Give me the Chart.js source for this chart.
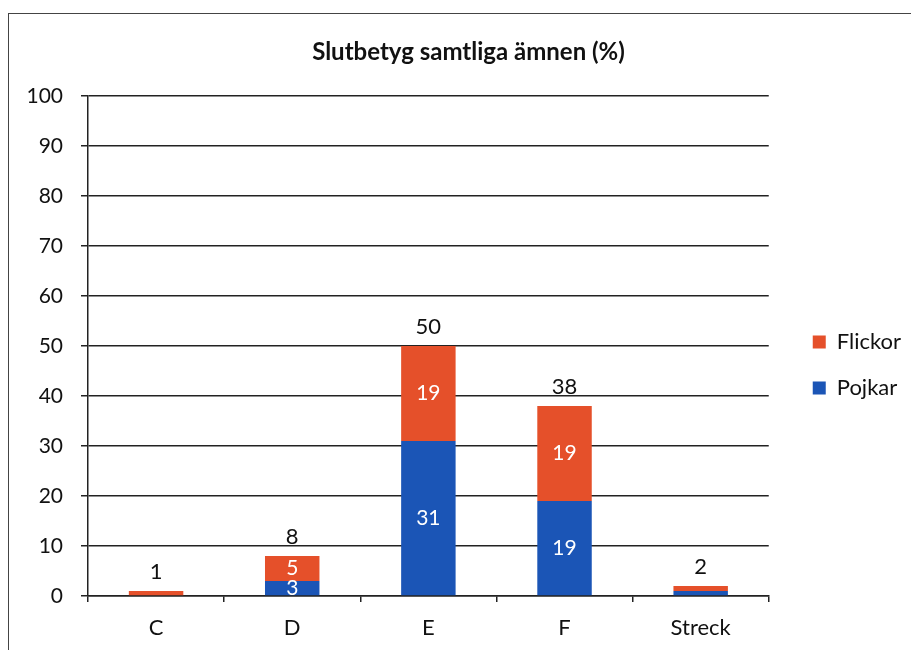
<!DOCTYPE html>
<html>
<head>
<meta charset="utf-8">
<script src="https://cdn.jsdelivr.net/npm/chart.js@4/dist/chart.umd.min.js"></script>
<style>
  html, body { margin: 0; padding: 0; background: #fff; }
  #wrap { position: relative; width: 911px; height: 650px; overflow: hidden; }
  #frame { position: absolute; left: 8px; top: 13px; width: 960px; height: 700px; border: 1.5px solid #444; box-sizing: border-box; }
  canvas { position: absolute; left: 0; top: 0; }
</style>
</head>
<body>
<div id="wrap">
  <div id="frame"></div>
  <canvas id="chart" width="911" height="650"></canvas>
</div>
<script>
// Slutbetyg samtliga ämnen (%)
const grades = ['C', 'D', 'E', 'F', 'Streck'];
const pojkar = [0, 3, 31, 19, 1];
const flickor = [1, 5, 19, 19, 1];
const yTicks = [0, 10, 20, 30, 40, 50, 60, 70, 80, 90, 100];

const FONT = 'Lato, "Open Sans", sans-serif';
const BLUE = '#1b55b6';
const ORANGE = '#e5502a';

// white numbers inside the segments and totals above each stack
const valueLabels = {
  id: 'valueLabels',
  afterDatasetsDraw(chart) {
    const ctx = chart.ctx;
    ctx.save();
    ctx.textAlign = 'center';
    ctx.textBaseline = 'middle';
    chart.data.datasets.forEach((ds, i) => {
      const meta = chart.getDatasetMeta(i);
      meta.data.forEach((bar, j) => {
        const v = ds.data[j];
        if (v < 3) return;
        ctx.fillStyle = '#fff';
        ctx.font = '21px ' + FONT;
        ctx.fillText(String(v), bar.x, (bar.y + bar.base) / 2);
      });
    });
    const top = chart.getDatasetMeta(chart.data.datasets.length - 1);
    top.data.forEach((bar, j) => {
      const total = pojkar[j] + flickor[j];
      ctx.fillStyle = '#111';
      ctx.font = '22px ' + FONT;
      ctx.fillText(String(total), bar.x, bar.y - 19);
    });
    ctx.restore();
  }
};

new Chart(document.getElementById('chart'), {
  type: 'bar',
  data: {
    labels: grades,
    datasets: [
      { label: 'Pojkar', data: pojkar, backgroundColor: BLUE, categoryPercentage: 1, barPercentage: 0.4 },
      { label: 'Flickor', data: flickor, backgroundColor: ORANGE, categoryPercentage: 1, barPercentage: 0.4 }
    ]
  },
  options: {
    responsive: false,
    animation: false,
    layout: { padding: { top: 0, right: 0, bottom: 0, left: 26 } },
    plugins: {
      title: {
        display: true,
        text: 'Slutbetyg samtliga ämnen (%)',
        color: '#111',
        font: { family: FONT, size: 24, weight: 'bold' },
        padding: { top: 37.6, bottom: 29.6 }
      },
      legend: {
        position: 'right',
        reverse: true,
        title: { display: true, text: ' ', font: { size: 10 }, padding: { top: 34, bottom: 34 } },
        labels: {
          color: '#111',
          font: { family: FONT, size: 22 },
          boxWidth: 13,
          boxHeight: 13,
          padding: 24
        }
      },
      tooltip: { enabled: false }
    },
    scales: {
      x: {
        stacked: true,
        grid: { drawOnChartArea: false, drawTicks: true, tickLength: 6, color: '#222', lineWidth: 1.5, offset: true },
        border: { color: '#222', width: 1.5 },
        ticks: { color: '#111', font: { family: FONT, size: 22 }, padding: 13 },
        afterFit(scale) { scale.height = 54; }
      },
      y: {
        stacked: true,
        min: 0,
        max: 100,
        afterBuildTicks(scale) { scale.ticks = yTicks.map(v => ({ value: v })); },
        grid: { color: '#222', lineWidth: 1.5, tickLength: 7 },
        border: { color: '#222', width: 1.5 },
        ticks: { color: '#111', font: { family: FONT, size: 21 }, padding: 18 },
        afterFit(scale) { scale.width = 62; }
      },
      // empty spacer between the plot and the legend
      gap: {
        position: 'right',
        display: true,
        grid: { display: false },
        border: { display: false },
        ticks: { display: false },
        afterFit(scale) { scale.width = 20; }
      }
    }
  },
  plugins: [valueLabels]
});
</script>
</body>
</html>
